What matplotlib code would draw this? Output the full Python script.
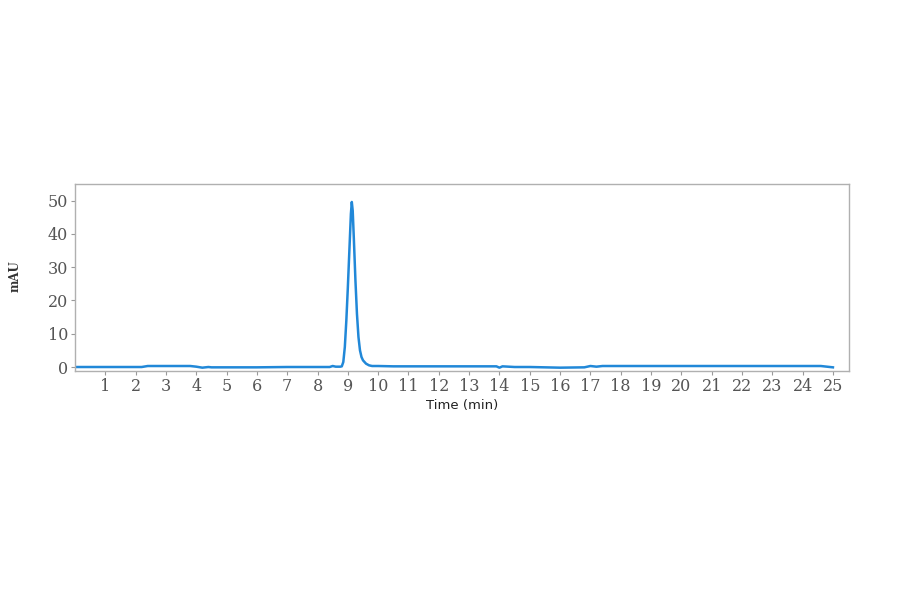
import matplotlib
matplotlib.use("Agg")
import matplotlib.pyplot as plt

# chromatogram trace
time_min = [0.0, 1.0, 2.2, 2.4, 3.0, 3.8, 4.0, 4.2, 4.4, 4.5, 5.0, 6.0, 7.0, 8.0, 8.4, 8.5, 8.6,
            8.75, 8.80, 8.85, 8.90, 8.95, 9.00, 9.05, 9.10, 9.13, 9.16, 9.20, 9.25, 9.30, 9.35,
            9.40, 9.45, 9.50, 9.60, 9.70, 9.80, 10.0, 10.5, 12.0, 13.9, 14.0, 14.1, 14.5, 15.0,
            16.0, 16.8, 17.0, 17.2, 17.4, 20.0, 22.0, 24.6, 24.9, 25.0]
mau = [0.0, 0.0, 0.0, 0.3, 0.3, 0.3, 0.1, -0.2, 0.0, -0.1, -0.1, -0.1, 0.0, 0.0, 0.0, 0.3, 0.1,
       0.1, 0.2, 1.5, 6.0, 14.0, 24.0, 35.0, 46.0, 49.6, 47.0, 38.0, 26.0, 16.0, 9.0,
       5.0, 3.0, 2.0, 1.0, 0.5, 0.3, 0.3, 0.2, 0.2, 0.2, -0.2, 0.2, 0.0, 0.0,
       -0.2, -0.1, 0.3, 0.1, 0.3, 0.3, 0.3, 0.3, 0.0, -0.1]

x_ticks = list(range(1, 26))
y_ticks = [0, 10, 20, 30, 40, 50]

fig = plt.figure(figsize=(9, 5.94), dpi=100)
ax = fig.add_axes([75/900, 1 - 371/594, (849-75)/900, (371-184)/594])

ax.plot(time_min, mau, color="#2188d8", lw=1.8)

ax.set_xlim(0, 25.53)
ax.set_ylim(-1.2, 55)
ax.set_xticks(x_ticks)
ax.set_yticks(y_ticks)
tick_font = dict(family="DejaVu Serif", size=11.5, color="#555555")
ax.set_xticklabels([str(t) for t in x_ticks], **tick_font)
ax.set_yticklabels([str(t) for t in y_ticks], **tick_font)
ax.tick_params(axis="both", length=3, width=0.8, color="#999999", pad=2)

for s in ax.spines.values():
    s.set_color("#b0b0b0")
    s.set_linewidth(1.0)

ax.set_xlabel("Time (min)", fontsize=9.5, family="DejaVu Sans", color="#222222", labelpad=3)
fig.text(15/900, 1 - 276/594, "mAU", rotation=90, ha="center", va="center",
         fontsize=8.5, family="DejaVu Serif", fontweight="bold", color="#333333")

fig.savefig("out.png", dpi=100)
